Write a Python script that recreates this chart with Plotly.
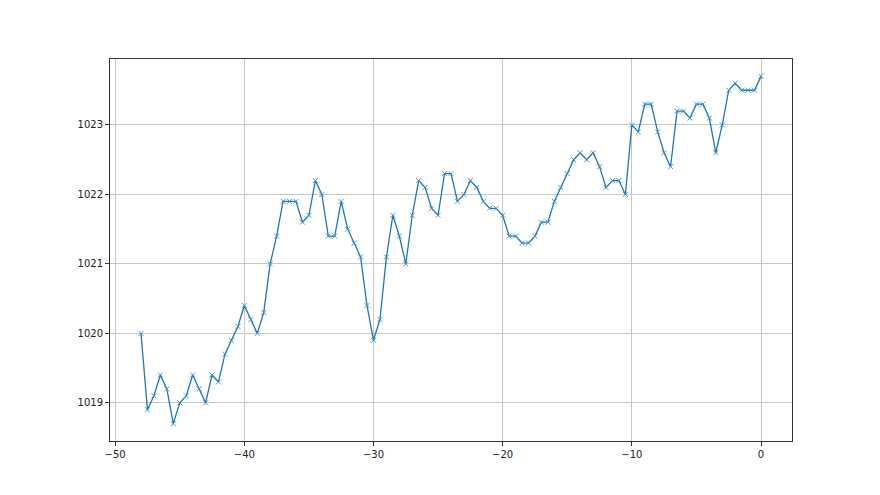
import plotly.graph_objects as go

# hours before now, step 0.5
hours = [i * 0.5 - 48 for i in range(97)]
pressure = [
    1020.0, 1018.9, 1019.1, 1019.4, 1019.2, 1018.7, 1019.0, 1019.1, 1019.4, 1019.2,
    1019.0, 1019.4, 1019.3, 1019.7, 1019.9, 1020.1, 1020.4, 1020.2, 1020.0, 1020.3,
    1021.0, 1021.4, 1021.9, 1021.9, 1021.9, 1021.6, 1021.7, 1022.2, 1022.0, 1021.4,
    1021.4, 1021.9, 1021.5, 1021.3, 1021.1, 1020.4, 1019.9, 1020.2, 1021.1, 1021.7,
    1021.4, 1021.0, 1021.7, 1022.2, 1022.1, 1021.8, 1021.7, 1022.3, 1022.3, 1021.9,
    1022.0, 1022.2, 1022.1, 1021.9, 1021.8, 1021.8, 1021.7, 1021.4, 1021.4, 1021.3,
    1021.3, 1021.4, 1021.6, 1021.6, 1021.9, 1022.1, 1022.3, 1022.5, 1022.6, 1022.5,
    1022.6, 1022.4, 1022.1, 1022.2, 1022.2, 1022.0, 1023.0, 1022.9, 1023.3, 1023.3,
    1022.9, 1022.6, 1022.4, 1023.2, 1023.2, 1023.1, 1023.3, 1023.3, 1023.1, 1022.6,
    1023.0, 1023.5, 1023.6, 1023.5, 1023.5, 1023.5, 1023.7,
]
x_ticks = [-50, -40, -30, -20, -10, 0]
y_ticks = [1019, 1020, 1021, 1022, 1023]

fig = go.Figure(go.Scatter(
    x=hours, y=pressure, mode="lines+markers",
    line=dict(color="#1f77b4", width=1.3),
    marker=dict(symbol="x-thin", size=5, color="#1f77b4",
                line=dict(width=0.9, color="#3a8ccc")),
))

axis_style = dict(
    showline=True, linecolor="#333333", linewidth=1, mirror=True,
    showgrid=True, gridcolor="#c8c8c8", gridwidth=1,
    ticks="outside", ticklen=4, tickcolor="#333333",
    zeroline=False, tickfont=dict(family="DejaVu Sans", size=10, color="#222222"),
)
fig.update_xaxes(range=[-50.4, 2.4], tickvals=x_ticks,
                 ticktext=["\u2212" + str(-t) if t < 0 else str(t) for t in x_ticks],
                 **axis_style)
fig.update_yaxes(range=[1018.45, 1023.95], tickvals=y_ticks, **axis_style)
# page body adds 8px margin, so shrink the figure to fit the window
fig.update_layout(
    width=872, height=487, showlegend=False,
    plot_bgcolor="white", paper_bgcolor="white",
    margin=dict(l=102, r=88, t=51, b=54),
)
fig.write_html("out.html")
